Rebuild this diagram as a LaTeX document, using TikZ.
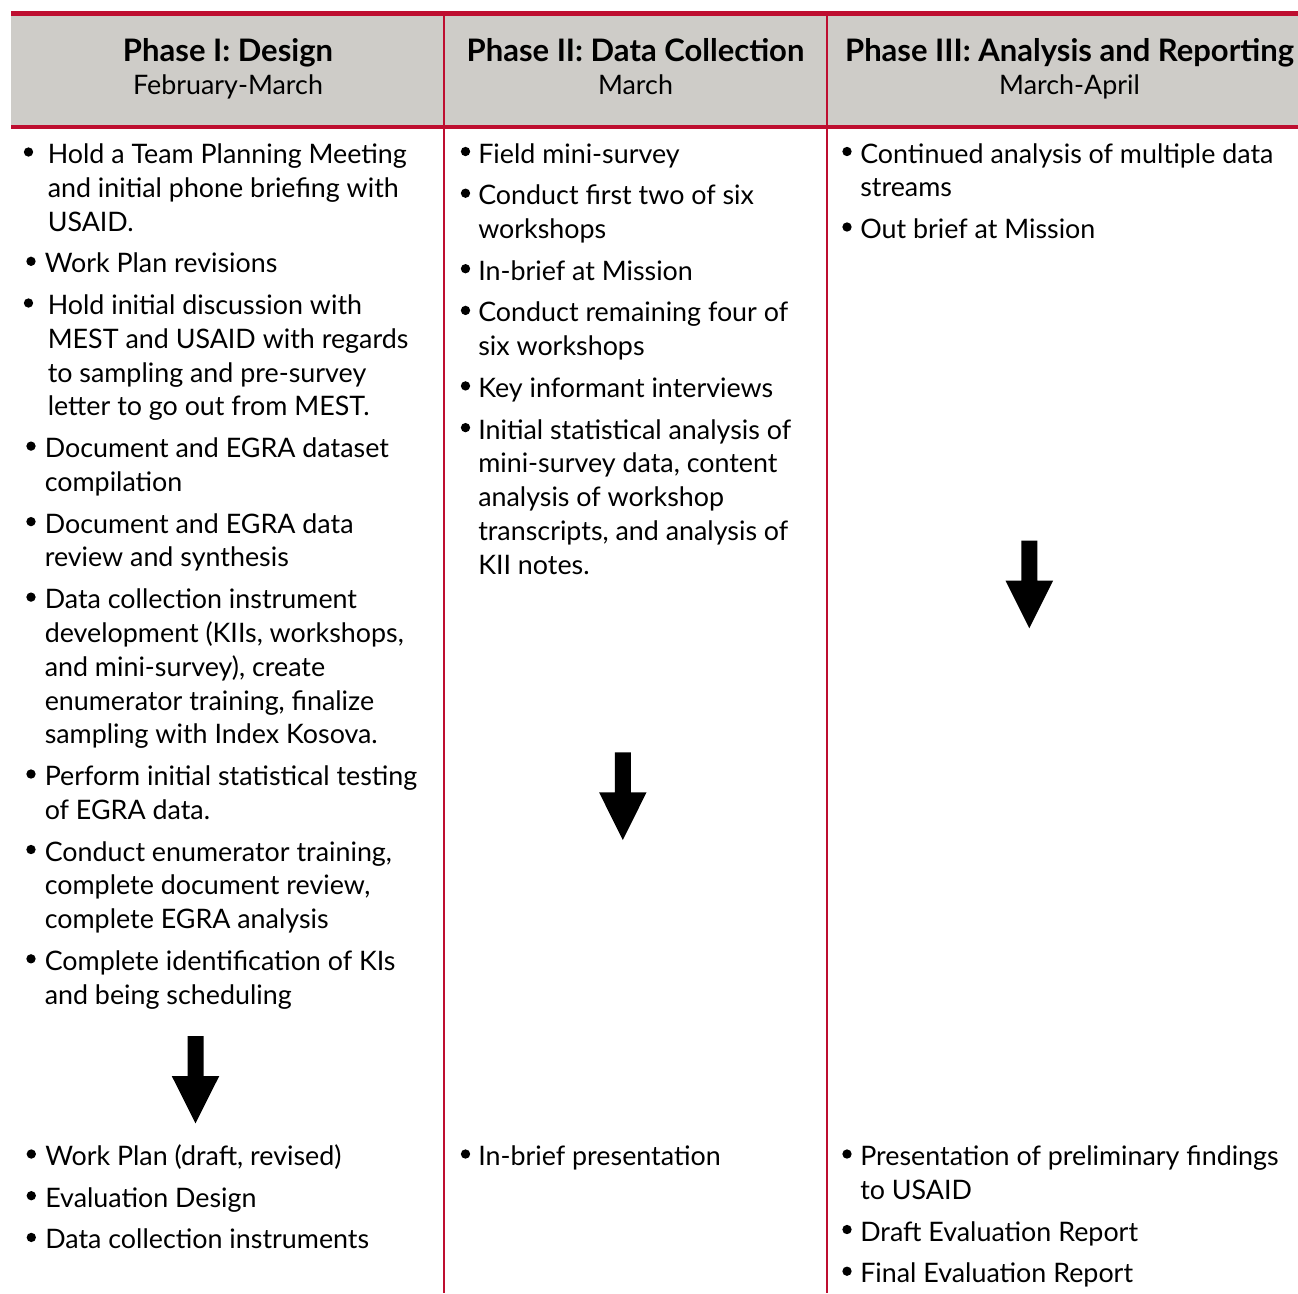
\documentclass[tikz,border=0pt]{standalone}
\usepackage{fontspec}
\setmainfont{Lato}
\definecolor{redline}{RGB}{190,14,48}
\definecolor{hdrgray}{RGB}{206,204,200}
\newlength\measw
\newlength\measb
\newcommand\txtline[4]{\node[txt] (#1) at (#2,#3) {#4};}
\newcommand\bulpt[3]{\node[blt] (#1) at (#2,#3) {};}
\newcommand\phasearrow[3]{\fill[black] (#1-8,#2) -- (#1+8,#2) -- (#1+8,#2+40) -- (#1+23.75,#2+40) -- (#1,#3) -- (#1-23.75,#2+40) -- (#1-8,#2+40) -- cycle;}
\begin{document}
\settowidth\measw{\fontsize{20pt}{24pt}\selectfont Hold a Team Planning Meeting}%
\pgfmathsetmacro\bodysize{20*269.25/\measw}%
\settowidth\measb{\fontsize{20pt}{24pt}\selectfont\bfseries Phase II: Data Collection}%
\pgfmathsetmacro\hdrsize{20*253.2/\measb}%
\begin{tikzpicture}[x=0.75pt,y=-0.75pt]
\tikzset{
  txt/.style={anchor=base west, inner sep=0pt, font=\fontsize{\bodysize pt}{\bodysize pt}\selectfont},
  hdr/.style={anchor=base, inner sep=0pt, font=\fontsize{\hdrsize pt}{\hdrsize pt}\selectfont\bfseries},
  hdrsub/.style={anchor=base, inner sep=0pt, font=\fontsize{\bodysize pt}{\bodysize pt}\selectfont},
  blt/.style={circle, fill=black, inner sep=0pt, minimum size=7pt},
  redrule/.style={draw=redline, line width=3.3pt},
  redthin/.style={draw=redline, line width=1.4pt}
}
\useasboundingbox (0,0) rectangle (1298,1293);
% header band
\fill[hdrgray] (11,15.5) rectangle (1298,125);
\draw[redthin] (444,15.5) -- (444,1293);
\draw[redthin] (827,15.5) -- (827,1293);
\draw[redrule] (11,13.5) -- (1298,13.5);
\draw[redrule] (11,127) -- (1298,127);
% headers
\node[hdr] (h1) at (228,61) {Phase I: Design};
\node[hdrsub] (h1s) at (228,94.5) {February-March};
\node[hdr] (h2) at (635.5,61) {Phase II: Data Collection};
\node[hdrsub] (h2s) at (635.5,94.5) {March};
\node[hdr] (h3) at (1069.5,61) {Phase III: Analysis and Reporting};
\node[hdrsub] (h3s) at (1069.5,94.5) {March-April};
% column 1
\bulpt{b11}{28.5}{152}
\txtline{a1}{47.5}{163.5}{Hold a Team Planning Meeting}
\txtline{a2}{47.5}{197.3}{and initial phone briefing with}
\txtline{a3}{47.5}{231.1}{USAID.}
\bulpt{b12}{31}{261.3}
\txtline{a4}{44.5}{272.8}{Work Plan revisions}
\bulpt{b13}{28.5}{303}
\txtline{a5}{47.5}{314.5}{Hold initial discussion with}
\txtline{a6}{47.5}{348.3}{MEST and USAID with regards}
\txtline{a7}{47.5}{382.1}{to sampling and pre-survey}
\txtline{a8}{47.5}{415.9}{letter to go out from MEST.}
\bulpt{b14}{31}{446.1}
\txtline{a9}{44.5}{457.6}{Document and EGRA dataset}
\txtline{a10}{44.5}{491.4}{compilation}
\bulpt{b15}{31}{521.6}
\txtline{a11}{44.5}{533.1}{Document and EGRA data}
\txtline{a12}{44.5}{566.9}{review and synthesis}
\bulpt{b16}{31}{597.1}
\txtline{a13}{44.5}{608.6}{Data collection instrument}
\txtline{a14}{44.5}{642.4}{development (KIIs, workshops,}
\txtline{a15}{44.5}{676.2}{and mini-survey), create}
\txtline{a16}{44.5}{710}{enumerator training, finalize}
\txtline{a17}{44.5}{743.8}{sampling with Index Kosova.}
\bulpt{b17}{31}{774}
\txtline{a18}{44.5}{785.5}{Perform initial statistical testing}
\txtline{a19}{44.5}{819.3}{of EGRA data.}
\bulpt{b18}{31}{849.5}
\txtline{a20}{44.5}{861}{Conduct enumerator training,}
\txtline{a21}{44.5}{894.8}{complete document review,}
\txtline{a22}{44.5}{928.6}{complete EGRA analysis}
\bulpt{b19}{31}{958.8}
\txtline{a23}{44.5}{970.3}{Complete identification of KIs}
\txtline{a24}{44.5}{1004.1}{and being scheduling}
\phasearrow{195.5}{1036}{1123.3}
\bulpt{d11}{31.3}{1154}
\txtline{c1}{45}{1165.5}{Work Plan (draft, revised)}
\bulpt{d12}{31.3}{1195.7}
\txtline{c2}{45}{1207.2}{Evaluation Design}
\bulpt{d13}{31.3}{1237.4}
\txtline{c3}{45}{1248.9}{Data collection instruments}
% column 2
\bulpt{b21}{465.5}{151.5}
\txtline{e1}{478}{163}{Field mini-survey}
\bulpt{b22}{465.5}{193.2}
\txtline{e2}{478}{204.7}{Conduct first two of six}
\txtline{e3}{478}{238.5}{workshops}
\bulpt{b23}{465.5}{268.7}
\txtline{e4}{478}{280.2}{In-brief at Mission}
\bulpt{b24}{465.5}{310.4}
\txtline{e5}{478}{321.9}{Conduct remaining four of}
\txtline{e6}{478}{355.7}{six workshops}
\bulpt{b25}{465.5}{385.9}
\txtline{e7}{478}{397.4}{Key informant interviews}
\bulpt{b26}{465.5}{427.6}
\txtline{e8}{478}{439.1}{Initial statistical analysis of}
\txtline{e9}{478}{472.9}{mini-survey data, content}
\txtline{e10}{478}{506.7}{analysis of workshop}
\txtline{e11}{478}{540.5}{transcripts, and analysis of}
\txtline{e12}{478}{574.3}{KII notes.}
\phasearrow{622.8}{752.3}{840}
\bulpt{d21}{465.5}{1154}
\txtline{f1}{478}{1165.5}{In-brief presentation}
% column 3
\bulpt{b31}{847}{151.5}
\txtline{g1}{860}{163}{Continued analysis of multiple data}
\txtline{g2}{860}{196.8}{streams}
\bulpt{b32}{847}{227}
\txtline{g3}{860}{238.5}{Out brief at Mission}
\phasearrow{1029.3}{540.7}{628.3}
\bulpt{d31}{847}{1154}
\txtline{k1}{860}{1165.5}{Presentation of preliminary findings}
\txtline{k2}{860}{1199.3}{to USAID}
\bulpt{d32}{847}{1229.5}
\txtline{k3}{860}{1241}{Draft Evaluation Report}
\bulpt{d33}{847}{1271.2}
\txtline{k4}{860}{1282.7}{Final Evaluation Report}
\end{tikzpicture}
\end{document}
